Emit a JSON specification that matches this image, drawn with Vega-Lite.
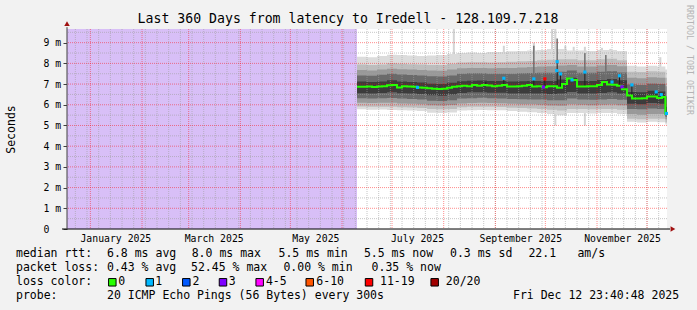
{
  "$schema": "https://vega.github.io/schema/vega-lite/v6.json",
  "autosize": {"type": "none"},
  "width": 600,
  "height": 200,
  "padding": {"left": 67, "top": 29, "right": 30, "bottom": 81},
  "background": "#f2f2f2",
  "config": {"view": {"stroke": null, "fill": "white"}, "font": "DejaVu Sans Mono"},
  "title": {"text": "Last 360 Days from latency to Iredell - 128.109.7.218", "font": "DejaVu Sans Mono", "fontSize": 13.2, "fontWeight": "normal", "color": "black", "anchor": "middle", "frame": "group", "dx": -19, "offset": -31, "baseline": "alphabetic"},
  "datasets": {
    "unknown": [{"s": "2024-12-17T23:40:48", "e": "2025-06-10T00:00:00", "lo": 0, "hi": 9.66}],
    "smoke": [
      {"d": "2025-06-10T00:00:00", "lo": 5.78, "l1": 5.92, "l2": 6.1, "l3": 6.32, "l4": 6.56, "h4": 7.12, "h3": 7.42, "h2": 7.68, "h1": 7.95, "hi": 8.32},
      {"d": "2025-06-16T00:00:00", "lo": 5.76, "l1": 5.9, "l2": 6.08, "l3": 6.3, "l4": 6.55, "h4": 7.1, "h3": 7.4, "h2": 7.66, "h1": 7.92, "hi": 8.3},
      {"d": "2025-06-22T00:00:00", "lo": 5.77, "l1": 5.91, "l2": 6.1, "l3": 6.32, "l4": 6.57, "h4": 7.13, "h3": 7.45, "h2": 7.7, "h1": 7.95, "hi": 8.35},
      {"d": "2025-06-28T00:00:00", "lo": 5.75, "l1": 5.9, "l2": 6.1, "l3": 6.33, "l4": 6.6, "h4": 7.18, "h3": 7.5, "h2": 7.74, "h1": 8.0, "hi": 8.42},
      {"d": "2025-07-04T00:00:00", "lo": 5.74, "l1": 5.88, "l2": 6.06, "l3": 6.3, "l4": 6.56, "h4": 7.12, "h3": 7.46, "h2": 7.72, "h1": 7.98, "hi": 8.4},
      {"d": "2025-07-10T00:00:00", "lo": 5.72, "l1": 5.87, "l2": 6.05, "l3": 6.28, "l4": 6.54, "h4": 7.1, "h3": 7.44, "h2": 7.7, "h1": 7.96, "hi": 8.38},
      {"d": "2025-07-16T00:00:00", "lo": 5.7, "l1": 5.85, "l2": 6.03, "l3": 6.26, "l4": 6.52, "h4": 7.08, "h3": 7.42, "h2": 7.68, "h1": 7.95, "hi": 8.36},
      {"d": "2025-07-22T00:00:00", "lo": 5.62, "l1": 5.8, "l2": 5.98, "l3": 6.2, "l4": 6.46, "h4": 7.02, "h3": 7.38, "h2": 7.65, "h1": 7.92, "hi": 8.38},
      {"d": "2025-07-28T00:00:00", "lo": 5.6, "l1": 5.78, "l2": 5.96, "l3": 6.18, "l4": 6.44, "h4": 7.0, "h3": 7.36, "h2": 7.64, "h1": 7.92, "hi": 8.4},
      {"d": "2025-08-03T00:00:00", "lo": 5.63, "l1": 5.8, "l2": 5.99, "l3": 6.22, "l4": 6.5, "h4": 7.06, "h3": 7.42, "h2": 7.7, "h1": 7.98, "hi": 8.45},
      {"d": "2025-08-09T00:00:00", "lo": 5.72, "l1": 5.88, "l2": 6.06, "l3": 6.3, "l4": 6.57, "h4": 7.14, "h3": 7.5, "h2": 7.76, "h1": 8.04, "hi": 8.5},
      {"d": "2025-08-15T00:00:00", "lo": 5.74, "l1": 5.9, "l2": 6.08, "l3": 6.32, "l4": 6.6, "h4": 7.16, "h3": 7.52, "h2": 7.78, "h1": 8.06, "hi": 8.52},
      {"d": "2025-08-21T00:00:00", "lo": 5.75, "l1": 5.9, "l2": 6.1, "l3": 6.34, "l4": 6.6, "h4": 7.17, "h3": 7.52, "h2": 7.78, "h1": 8.05, "hi": 8.5},
      {"d": "2025-08-27T00:00:00", "lo": 5.74, "l1": 5.9, "l2": 6.08, "l3": 6.32, "l4": 6.58, "h4": 7.15, "h3": 7.5, "h2": 7.76, "h1": 8.04, "hi": 8.55},
      {"d": "2025-09-02T00:00:00", "lo": 5.73, "l1": 5.89, "l2": 6.07, "l3": 6.3, "l4": 6.58, "h4": 7.15, "h3": 7.5, "h2": 7.78, "h1": 8.06, "hi": 8.55},
      {"d": "2025-09-08T00:00:00", "lo": 5.7, "l1": 5.86, "l2": 6.05, "l3": 6.28, "l4": 6.55, "h4": 7.13, "h3": 7.5, "h2": 7.78, "h1": 8.08, "hi": 8.58},
      {"d": "2025-09-14T00:00:00", "lo": 5.66, "l1": 5.84, "l2": 6.03, "l3": 6.27, "l4": 6.55, "h4": 7.14, "h3": 7.52, "h2": 7.8, "h1": 8.1, "hi": 8.6},
      {"d": "2025-09-20T00:00:00", "lo": 5.64, "l1": 5.82, "l2": 6.02, "l3": 6.26, "l4": 6.55, "h4": 7.15, "h3": 7.54, "h2": 7.82, "h1": 8.12, "hi": 8.62},
      {"d": "2025-09-26T00:00:00", "lo": 5.6, "l1": 5.8, "l2": 6.0, "l3": 6.25, "l4": 6.54, "h4": 7.15, "h3": 7.55, "h2": 7.85, "h1": 8.15, "hi": 8.65},
      {"d": "2025-10-02T00:00:00", "lo": 5.55, "l1": 5.76, "l2": 5.97, "l3": 6.22, "l4": 6.52, "h4": 7.15, "h3": 7.55, "h2": 7.86, "h1": 8.18, "hi": 8.7},
      {"d": "2025-10-08T00:00:00", "lo": 5.5, "l1": 5.72, "l2": 5.95, "l3": 6.22, "l4": 6.55, "h4": 7.22, "h3": 7.6, "h2": 7.9, "h1": 8.2, "hi": 8.7},
      {"d": "2025-10-14T00:00:00", "lo": 5.6, "l1": 5.8, "l2": 6.02, "l3": 6.3, "l4": 6.62, "h4": 7.3, "h3": 7.65, "h2": 7.92, "h1": 8.2, "hi": 8.62},
      {"d": "2025-10-20T00:00:00", "lo": 5.6, "l1": 5.8, "l2": 6.0, "l3": 6.25, "l4": 6.55, "h4": 7.15, "h3": 7.55, "h2": 7.85, "h1": 8.15, "hi": 8.62},
      {"d": "2025-10-26T00:00:00", "lo": 5.58, "l1": 5.78, "l2": 5.98, "l3": 6.24, "l4": 6.54, "h4": 7.15, "h3": 7.55, "h2": 7.85, "h1": 8.15, "hi": 8.6},
      {"d": "2025-11-01T00:00:00", "lo": 5.6, "l1": 5.8, "l2": 6.0, "l3": 6.26, "l4": 6.57, "h4": 7.2, "h3": 7.6, "h2": 7.9, "h1": 8.2, "hi": 8.65},
      {"d": "2025-11-07T00:00:00", "lo": 5.6, "l1": 5.8, "l2": 6.01, "l3": 6.28, "l4": 6.6, "h4": 7.25, "h3": 7.62, "h2": 7.92, "h1": 8.22, "hi": 8.65},
      {"d": "2025-11-13T00:00:00", "lo": 5.55, "l1": 5.76, "l2": 5.98, "l3": 6.24, "l4": 6.55, "h4": 7.18, "h3": 7.56, "h2": 7.86, "h1": 8.15, "hi": 8.6},
      {"d": "2025-11-19T00:00:00", "lo": 5.18, "l1": 5.32, "l2": 5.55, "l3": 5.8, "l4": 6.05, "h4": 6.62, "h3": 6.98, "h2": 7.3, "h1": 7.6, "hi": 7.88},
      {"d": "2025-11-25T00:00:00", "lo": 5.15, "l1": 5.3, "l2": 5.52, "l3": 5.78, "l4": 6.03, "h4": 6.6, "h3": 6.96, "h2": 7.28, "h1": 7.58, "hi": 7.85},
      {"d": "2025-12-01T00:00:00", "lo": 5.18, "l1": 5.33, "l2": 5.56, "l3": 5.82, "l4": 6.08, "h4": 6.68, "h3": 7.02, "h2": 7.33, "h1": 7.62, "hi": 7.88},
      {"d": "2025-12-07T00:00:00", "lo": 5.16, "l1": 5.32, "l2": 5.55, "l3": 5.8, "l4": 6.05, "h4": 6.64, "h3": 7.0, "h2": 7.3, "h1": 7.6, "hi": 7.85},
      {"d": "2025-12-12T00:00:00", "lo": 5.05, "l1": 5.15, "l2": 5.3, "l3": 5.42, "l4": 5.5, "h4": 5.9, "h3": 6.4, "h2": 6.9, "h1": 7.3, "hi": 7.7},
      {"d": "2025-12-12T23:40:48", "lo": 5.05, "l1": 5.15, "l2": 5.3, "l3": 5.42, "l4": 5.5, "h4": 5.9, "h3": 6.4, "h2": 6.9, "h1": 7.3, "hi": 7.7}
    ],
    "med": [
      {"d": "2025-06-10T00:00:00", "m": 6.87}, {"d": "2025-06-13T00:00:00", "m": 6.87}, {"d": "2025-06-16T00:00:00", "m": 6.88},
      {"d": "2025-06-19T00:00:00", "m": 6.86}, {"d": "2025-06-22T00:00:00", "m": 6.88}, {"d": "2025-06-25T00:00:00", "m": 6.9},
      {"d": "2025-06-28T00:00:00", "m": 6.94}, {"d": "2025-07-01T00:00:00", "m": 6.95}, {"d": "2025-07-04T00:00:00", "m": 6.84},
      {"d": "2025-07-07T00:00:00", "m": 6.9}, {"d": "2025-07-10T00:00:00", "m": 6.88}, {"d": "2025-07-13T00:00:00", "m": 6.87},
      {"d": "2025-07-16T00:00:00", "m": 6.84}, {"d": "2025-07-19T00:00:00", "m": 6.82}, {"d": "2025-07-22T00:00:00", "m": 6.8},
      {"d": "2025-07-25T00:00:00", "m": 6.78}, {"d": "2025-07-28T00:00:00", "m": 6.76}, {"d": "2025-07-31T00:00:00", "m": 6.77},
      {"d": "2025-08-03T00:00:00", "m": 6.82}, {"d": "2025-08-06T00:00:00", "m": 6.87}, {"d": "2025-08-09T00:00:00", "m": 6.9},
      {"d": "2025-08-12T00:00:00", "m": 6.92}, {"d": "2025-08-15T00:00:00", "m": 6.9}, {"d": "2025-08-18T00:00:00", "m": 6.95},
      {"d": "2025-08-21T00:00:00", "m": 6.92}, {"d": "2025-08-24T00:00:00", "m": 6.95}, {"d": "2025-08-27T00:00:00", "m": 6.93},
      {"d": "2025-08-30T00:00:00", "m": 6.9}, {"d": "2025-09-02T00:00:00", "m": 6.92}, {"d": "2025-09-05T00:00:00", "m": 6.95},
      {"d": "2025-09-08T00:00:00", "m": 6.88}, {"d": "2025-09-11T00:00:00", "m": 6.88}, {"d": "2025-09-14T00:00:00", "m": 6.9},
      {"d": "2025-09-17T00:00:00", "m": 6.92}, {"d": "2025-09-20T00:00:00", "m": 6.95}, {"d": "2025-09-23T00:00:00", "m": 6.88},
      {"d": "2025-09-26T00:00:00", "m": 6.9}, {"d": "2025-09-29T00:00:00", "m": 6.85}, {"d": "2025-10-02T00:00:00", "m": 6.9},
      {"d": "2025-10-05T00:00:00", "m": 6.9}, {"d": "2025-10-08T00:00:00", "m": 6.82}, {"d": "2025-10-11T00:00:00", "m": 7.0},
      {"d": "2025-10-14T00:00:00", "m": 7.27}, {"d": "2025-10-17T00:00:00", "m": 7.2}, {"d": "2025-10-20T00:00:00", "m": 6.88},
      {"d": "2025-10-23T00:00:00", "m": 6.88}, {"d": "2025-10-26T00:00:00", "m": 6.9}, {"d": "2025-10-29T00:00:00", "m": 6.9},
      {"d": "2025-11-01T00:00:00", "m": 6.95}, {"d": "2025-11-04T00:00:00", "m": 7.1}, {"d": "2025-11-07T00:00:00", "m": 6.98},
      {"d": "2025-11-10T00:00:00", "m": 6.97}, {"d": "2025-11-13T00:00:00", "m": 6.92}, {"d": "2025-11-16T00:00:00", "m": 6.75},
      {"d": "2025-11-19T00:00:00", "m": 6.45}, {"d": "2025-11-22T00:00:00", "m": 6.3}, {"d": "2025-11-25T00:00:00", "m": 6.3},
      {"d": "2025-11-28T00:00:00", "m": 6.32}, {"d": "2025-12-01T00:00:00", "m": 6.4}, {"d": "2025-12-04T00:00:00", "m": 6.4},
      {"d": "2025-12-07T00:00:00", "m": 6.33}, {"d": "2025-12-10T00:00:00", "m": 6.38}, {"d": "2025-12-12T00:00:00", "m": 5.55},
      {"d": "2025-12-12T23:40:48", "m": 5.55}
    ],
    "spk": [
      {"d": "2025-08-26T07:00:00", "b": 6.93, "t": 7.1},
      {"d": "2025-09-06T02:00:00", "b": 6.95, "t": 7.28},
      {"d": "2025-09-24T02:00:00", "b": 6.9, "t": 7.25},
      {"d": "2025-09-30T17:00:00", "b": 6.85, "t": 7.25},
      {"d": "2025-10-08T02:00:00", "b": 6.9, "t": 8.08},
      {"d": "2025-10-10T02:00:00", "b": 6.85, "t": 7.49},
      {"d": "2025-10-24T17:00:00", "b": 6.88, "t": 7.58},
      {"d": "2025-11-10T00:00:00", "b": 6.97, "t": 7.1},
      {"d": "2025-11-14T12:00:00", "b": 6.92, "t": 7.4},
      {"d": "2025-11-21T22:00:00", "b": 6.3, "t": 6.96},
      {"d": "2025-12-06T12:00:00", "b": 6.38, "t": 6.62},
      {"d": "2025-12-09T12:00:00", "b": 6.36, "t": 6.49}
    ],
    "lpts": [
      {"d": "2025-07-16T07:00:00", "v": 6.84, "loss": "1"},
      {"d": "2025-09-06T02:00:00", "v": 7.28, "loss": "1"},
      {"d": "2025-09-24T02:00:00", "v": 7.25, "loss": "1"},
      {"d": "2025-09-29T19:00:00", "v": 6.86, "loss": "3"},
      {"d": "2025-09-30T17:00:00", "v": 7.25, "loss": "11-19"},
      {"d": "2025-10-07T20:00:00", "v": 7.65, "loss": "1"},
      {"d": "2025-10-08T02:00:00", "v": 8.08, "loss": "1"},
      {"d": "2025-10-10T02:00:00", "v": 7.49, "loss": "1"},
      {"d": "2025-10-17T00:00:00", "v": 7.2, "loss": "1"},
      {"d": "2025-10-24T17:00:00", "v": 7.58, "loss": "1"},
      {"d": "2025-11-10T00:00:00", "v": 7.1, "loss": "1"},
      {"d": "2025-11-14T12:00:00", "v": 7.4, "loss": "1"},
      {"d": "2025-11-15T22:00:00", "v": 6.87, "loss": "3"},
      {"d": "2025-11-21T22:00:00", "v": 6.96, "loss": "1"},
      {"d": "2025-12-06T12:00:00", "v": 6.62, "loss": "1"},
      {"d": "2025-12-09T12:00:00", "v": 6.49, "loss": "1"},
      {"d": "2025-12-12T15:00:00", "v": 5.58, "loss": "1"}
    ],
    "stl": [
      {"d": "2025-08-07T02:00:00", "b": 8.3, "t": 9.66},
      {"d": "2025-09-06T02:00:00", "b": 8.5, "t": 8.85},
      {"d": "2025-09-24T02:00:00", "b": 8.5, "t": 9.0},
      {"d": "2025-10-05T00:00:00", "b": 8.6, "t": 9.66},
      {"d": "2025-10-07T00:00:00", "b": 8.6, "t": 9.66},
      {"d": "2025-10-07T00:00:00", "b": 5.0, "t": 5.6},
      {"d": "2025-10-13T00:00:00", "b": 8.5, "t": 8.85},
      {"d": "2025-10-18T00:00:00", "b": 8.5, "t": 8.8},
      {"d": "2025-10-24T17:00:00", "b": 8.5, "t": 8.8},
      {"d": "2025-10-24T17:00:00", "b": 5.0, "t": 5.6},
      {"d": "2025-11-04T00:00:00", "b": 8.5, "t": 8.75},
      {"d": "2025-11-09T00:00:00", "b": 8.5, "t": 8.7},
      {"d": "2025-12-09T00:00:00", "b": 7.8, "t": 8.3}
    ],
    "std": [
      {"d": "2025-09-24T02:00:00", "b": 7.3, "t": 8.85},
      {"d": "2025-10-08T02:00:00", "b": 8.08, "t": 9.2},
      {"d": "2025-10-24T17:00:00", "b": 7.6, "t": 8.5},
      {"d": "2025-11-06T07:00:00", "b": 7.2, "t": 8.4}
    ],
    "wk": [
      {"d": "2024-12-23T00:00:00"}, {"d": "2024-12-30T00:00:00"}, {"d": "2025-01-06T00:00:00"}, {"d": "2025-01-13T00:00:00"},
      {"d": "2025-01-20T00:00:00"}, {"d": "2025-01-27T00:00:00"}, {"d": "2025-02-03T00:00:00"}, {"d": "2025-02-10T00:00:00"},
      {"d": "2025-02-17T00:00:00"}, {"d": "2025-02-24T00:00:00"}, {"d": "2025-03-03T00:00:00"}, {"d": "2025-03-10T00:00:00"},
      {"d": "2025-03-17T00:00:00"}, {"d": "2025-03-24T00:00:00"}, {"d": "2025-03-31T00:00:00"}, {"d": "2025-04-07T00:00:00"},
      {"d": "2025-04-14T00:00:00"}, {"d": "2025-04-21T00:00:00"}, {"d": "2025-04-28T00:00:00"}, {"d": "2025-05-05T00:00:00"},
      {"d": "2025-05-12T00:00:00"}, {"d": "2025-05-19T00:00:00"}, {"d": "2025-05-26T00:00:00"}, {"d": "2025-06-02T00:00:00"},
      {"d": "2025-06-09T00:00:00"}, {"d": "2025-06-16T00:00:00"}, {"d": "2025-06-23T00:00:00"}, {"d": "2025-06-30T00:00:00"},
      {"d": "2025-07-07T00:00:00"}, {"d": "2025-07-14T00:00:00"}, {"d": "2025-07-21T00:00:00"}, {"d": "2025-07-28T00:00:00"},
      {"d": "2025-08-04T00:00:00"}, {"d": "2025-08-11T00:00:00"}, {"d": "2025-08-18T00:00:00"}, {"d": "2025-08-25T00:00:00"},
      {"d": "2025-09-01T00:00:00"}, {"d": "2025-09-08T00:00:00"}, {"d": "2025-09-15T00:00:00"}, {"d": "2025-09-22T00:00:00"},
      {"d": "2025-09-29T00:00:00"}, {"d": "2025-10-06T00:00:00"}, {"d": "2025-10-13T00:00:00"}, {"d": "2025-10-20T00:00:00"},
      {"d": "2025-10-27T00:00:00"}, {"d": "2025-11-03T00:00:00"}, {"d": "2025-11-10T00:00:00"}, {"d": "2025-11-17T00:00:00"},
      {"d": "2025-11-24T00:00:00"}, {"d": "2025-12-01T00:00:00"}, {"d": "2025-12-08T00:00:00"}
    ],
    "mo": [
      {"d": "2025-01-01T00:00:00"}, {"d": "2025-02-01T00:00:00"}, {"d": "2025-03-01T00:00:00"}, {"d": "2025-04-01T00:00:00"},
      {"d": "2025-05-01T00:00:00"}, {"d": "2025-06-01T00:00:00"}, {"d": "2025-07-01T00:00:00"}, {"d": "2025-08-01T00:00:00"},
      {"d": "2025-09-01T00:00:00"}, {"d": "2025-10-01T00:00:00"}, {"d": "2025-11-01T00:00:00"}, {"d": "2025-12-01T00:00:00"}
    ],
    "yminor": [{"v": 0.5}, {"v": 1.5}, {"v": 2.5}, {"v": 3.5}, {"v": 4.5}, {"v": 5.5}, {"v": 6.5}, {"v": 7.5}, {"v": 8.5}, {"v": 9.5}],
    "ymajor": [{"v": 1}, {"v": 2}, {"v": 3}, {"v": 4}, {"v": 5}, {"v": 6}, {"v": 7}, {"v": 8}, {"v": 9}],
    "legendtext": [
      {"row": 1, "col": 0, "t": "median rtt:"}, {"row": 1, "col": 13, "t": "6.8 ms avg"}, {"row": 1, "col": 25.1, "t": "8.0 ms max"},
      {"row": 1, "col": 37.5, "t": "5.5 ms min"}, {"row": 1, "col": 49.7, "t": "5.5 ms now"}, {"row": 1, "col": 62, "t": "0.3 ms sd"},
      {"row": 1, "col": 73.2, "t": "22.1"}, {"row": 1, "col": 80.2, "t": "am/s"},
      {"row": 2, "col": 0, "t": "packet loss:"}, {"row": 2, "col": 13, "t": "0.43 % avg"}, {"row": 2, "col": 25, "t": "52.45 % max"},
      {"row": 2, "col": 38.2, "t": "0.00 % min"}, {"row": 2, "col": 50.8, "t": "0.35 % now"},
      {"row": 3, "col": 0, "t": "loss color:"}, {"row": 3, "col": 14.6, "t": "0"}, {"row": 3, "col": 19.9, "t": "1"},
      {"row": 3, "col": 25.2, "t": "2"}, {"row": 3, "col": 30.4, "t": "3"}, {"row": 3, "col": 35.7, "t": "4-5"},
      {"row": 3, "col": 42.9, "t": "6-10"}, {"row": 3, "col": 52.0, "t": "11-19"}, {"row": 3, "col": 61.4, "t": "20/20"},
      {"row": 4, "col": 0, "t": "probe:"}, {"row": 4, "col": 13, "t": "20 ICMP Echo Pings (56 Bytes) every 300s"},
      {"row": 4, "col": 71, "t": "Fri Dec 12 23:40:48 2025"}
    ],
    "boxes": [
      {"row": 3, "col": 13.76, "loss": "0"}, {"row": 3, "col": 19.1, "loss": "1"}, {"row": 3, "col": 24.33, "loss": "2"},
      {"row": 3, "col": 29.57, "loss": "3"}, {"row": 3, "col": 34.81, "loss": "4-5"}, {"row": 3, "col": 41.96, "loss": "6-10"},
      {"row": 3, "col": 50.43, "loss": "11-19"}, {"row": 3, "col": 59.81, "loss": "20/20"}
    ]
  },
  "resolve": {"scale": {"x": "independent", "y": "independent", "color": "independent", "fill": "independent"}},
  "layer": [
    {
      "layer": [
        {
          "data": {"name": "unknown"},
          "mark": {"type": "rect", "color": "#d8bff7"},
          "encoding": {
            "x": {"field": "s", "type": "temporal",
                  "scale": {"domain": [{"year": 2024, "month": 12, "date": 17, "hours": 23, "minutes": 40, "seconds": 48}, {"year": 2025, "month": 12, "date": 12, "hours": 23, "minutes": 40, "seconds": 48}]},
                  "axis": {"title": null, "grid": false, "ticks": false, "domain": false, "format": "%B %Y", "labelAngle": 0, "labelOverlap": false, "labelFlush": false, "labelFont": "DejaVu Sans Mono", "labelFontSize": 9.8, "labelColor": "black", "labelPadding": 4, "labelAlign": "center",
                           "values": [{"year": 2025, "month": 1, "date": 16}, {"year": 2025, "month": 3, "date": 16}, {"year": 2025, "month": 5, "date": 16}, {"year": 2025, "month": 7, "date": 16}, {"year": 2025, "month": 9, "date": 16}, {"year": 2025, "month": 11, "date": 16}]}},
            "x2": {"field": "e"},
            "y": {"field": "lo", "type": "quantitative",
                  "scale": {"domain": [0, 9.66], "nice": false, "zero": false},
                  "axis": {"title": "Seconds", "titleFont": "DejaVu Sans Mono", "titleFontSize": 11.5, "titleFontWeight": "normal", "titleColor": "black", "titlePadding": 27,
                           "values": [0, 1, 2, 3, 4, 5, 6, 7, 8, 9], "tickCount": 10, "labelExpr": "datum.value == 0 ? '0' : datum.value + ' m'",
                           "labelOverlap": false, "labelFlush": false, "labelBaseline": "middle",
                           "labelFont": "DejaVu Sans Mono", "labelFontSize": 9.8, "labelColor": "black", "labelAlign": "left", "labelPadding": 20,
                           "tickSize": 4, "tickColor": "#404040", "domain": false, "grid": false}},
            "y2": {"field": "hi"}
          }
        },
        {"data": {"name": "stl"}, "mark": {"type": "rule", "color": "#d4d4d4", "strokeWidth": 2},
         "encoding": {"x": {"field": "d", "type": "temporal"}, "y": {"field": "b", "type": "quantitative"}, "y2": {"field": "t"}}},
        {"data": {"name": "smoke"}, "mark": {"type": "area", "interpolate": "step-after", "color": "#dcdcdc"},
         "encoding": {"x": {"field": "d", "type": "temporal"}, "y": {"field": "lo", "type": "quantitative"}, "y2": {"field": "hi"}}},
        {"data": {"name": "smoke"}, "mark": {"type": "area", "interpolate": "step-after", "color": "#bdbdbd"},
         "encoding": {"x": {"field": "d", "type": "temporal"}, "y": {"field": "l1", "type": "quantitative"}, "y2": {"field": "h1"}}},
        {"data": {"name": "smoke"}, "mark": {"type": "area", "interpolate": "step-after", "color": "#999999"},
         "encoding": {"x": {"field": "d", "type": "temporal"}, "y": {"field": "l2", "type": "quantitative"}, "y2": {"field": "h2"}}},
        {"data": {"name": "smoke"}, "mark": {"type": "area", "interpolate": "step-after", "color": "#6a6a6a"},
         "encoding": {"x": {"field": "d", "type": "temporal"}, "y": {"field": "l3", "type": "quantitative"}, "y2": {"field": "h3"}}},
        {"data": {"name": "smoke"}, "mark": {"type": "area", "interpolate": "step-after", "color": "#3c3c3c"},
         "encoding": {"x": {"field": "d", "type": "temporal"}, "y": {"field": "l4", "type": "quantitative"}, "y2": {"field": "h4"}}},
        {"data": {"name": "std"}, "mark": {"type": "rule", "color": "#707070", "strokeWidth": 1.5},
         "encoding": {"x": {"field": "d", "type": "temporal"}, "y": {"field": "b", "type": "quantitative"}, "y2": {"field": "t"}}},
        {"data": {"name": "wk"}, "mark": {"type": "rule", "color": "#a0a0a0", "strokeDash": [1, 1], "strokeWidth": 1, "opacity": 0.6},
         "encoding": {"x": {"field": "d", "type": "temporal"}}},
        {"data": {"name": "yminor"}, "mark": {"type": "rule", "color": "#a0a0a0", "strokeDash": [1, 1], "strokeWidth": 1, "opacity": 0.6},
         "encoding": {"y": {"field": "v", "type": "quantitative"}}},
        {"data": {"name": "mo"}, "mark": {"type": "rule", "color": "#ff0000", "strokeDash": [1, 1], "strokeWidth": 1, "opacity": 0.45},
         "encoding": {"x": {"field": "d", "type": "temporal"}}},
        {"data": {"name": "ymajor"}, "mark": {"type": "rule", "color": "#ff0000", "strokeDash": [1, 1], "strokeWidth": 1, "opacity": 0.45},
         "encoding": {"y": {"field": "v", "type": "quantitative"}}},
        {"data": {"name": "med"}, "mark": {"type": "line", "interpolate": "step-after", "color": "#1e1e1e", "strokeWidth": 1},
         "encoding": {"x": {"field": "d", "type": "temporal"}, "y": {"field": "m", "type": "quantitative"}}},
        {"data": {"name": "spk"}, "mark": {"type": "rule", "color": "#1e1e1e", "strokeWidth": 1},
         "encoding": {"x": {"field": "d", "type": "temporal"}, "y": {"field": "b", "type": "quantitative"}, "y2": {"field": "t"}}},
        {"data": {"name": "med"}, "mark": {"type": "line", "interpolate": "step-after", "color": "#26ff00", "strokeWidth": 2},
         "encoding": {"x": {"field": "d", "type": "temporal"}, "y": {"field": "m", "type": "quantitative"}}},
        {"data": {"name": "lpts"}, "mark": {"type": "point", "shape": "square", "filled": true, "size": 10, "opacity": 1},
         "encoding": {"x": {"field": "d", "type": "temporal"}, "y": {"field": "v", "type": "quantitative"},
                      "color": {"field": "loss", "type": "nominal", "legend": null,
                                "scale": {"domain": ["0", "1", "2", "3", "4-5", "6-10", "11-19", "20/20"], "range": ["#26ff00", "#00b8ff", "#0059ff", "#7e00ff", "#ff00ff", "#ff5500", "#ff0000", "#a10000"]}}}},
        {"data": {"values": [{"a": "2024-12-14T23:40:48", "b": "2025-12-14T19:00:00", "v": 0}]}, "mark": {"type": "rule", "color": "black", "strokeWidth": 1},
         "encoding": {"x": {"field": "a", "type": "temporal"}, "x2": {"field": "b"}, "y": {"field": "v", "type": "quantitative"}}},
        {"data": {"values": [{"a": "2024-12-17T23:40:48", "v0": 0, "v1": 9.75}]}, "mark": {"type": "rule", "color": "#404040", "strokeWidth": 1},
         "encoding": {"x": {"field": "a", "type": "temporal"}, "y": {"field": "v0", "type": "quantitative"}, "y2": {"field": "v1"}}},
        {"data": {"values": [{"a": "2024-12-17T23:40:48", "v": 9.92, "s": "up"}, {"a": "2025-12-16T13:00:00", "v": 0, "s": "right"}]},
         "mark": {"type": "point", "filled": true, "size": 30, "color": "#a01010", "opacity": 1},
         "encoding": {"x": {"field": "a", "type": "temporal"}, "y": {"field": "v", "type": "quantitative"},
                      "shape": {"field": "s", "type": "nominal", "legend": null, "scale": {"domain": ["up", "right"], "range": ["triangle-up", "triangle-right"]}}}},
        {"data": {"values": [{"a": "2025-12-26T00:00:00", "v": 8.16, "t": "RRDTOOL / TOBI OETIKER"}]},
         "mark": {"type": "text", "angle": 90, "align": "center", "baseline": "middle", "font": "DejaVu Sans Mono", "fontSize": 8.3, "color": "#b4b4b4"},
         "encoding": {"x": {"field": "a", "type": "temporal"}, "y": {"field": "v", "type": "quantitative"}, "text": {"field": "t"}}}
      ]
    },
    {
      "layer": [
        {"data": {"name": "legendtext"},
         "mark": {"type": "text", "align": "left", "baseline": "middle", "font": "DejaVu Sans Mono", "fontSize": 11.5, "color": "black"},
         "encoding": {"x": {"field": "col", "type": "quantitative", "scale": {"domain": [0, 100], "range": [-51, 649]}, "axis": null},
                      "y": {"field": "row", "type": "quantitative", "scale": {"domain": [1, 4], "range": [225.3, 267.3]}, "axis": null},
                      "text": {"field": "t"}}},
        {"data": {"name": "boxes"},
         "mark": {"type": "point", "shape": "square", "filled": true, "size": 56, "stroke": "black", "strokeWidth": 1, "opacity": 1},
         "encoding": {"x": {"field": "col", "type": "quantitative"},
                      "y": {"field": "row", "type": "quantitative"},
                      "fill": {"field": "loss", "type": "nominal", "legend": null,
                               "scale": {"domain": ["0", "1", "2", "3", "4-5", "6-10", "11-19", "20/20"], "range": ["#26ff00", "#00b8ff", "#0059ff", "#7e00ff", "#ff00ff", "#ff5500", "#ff0000", "#a10000"]}}}}
      ]
    }
  ]
}
